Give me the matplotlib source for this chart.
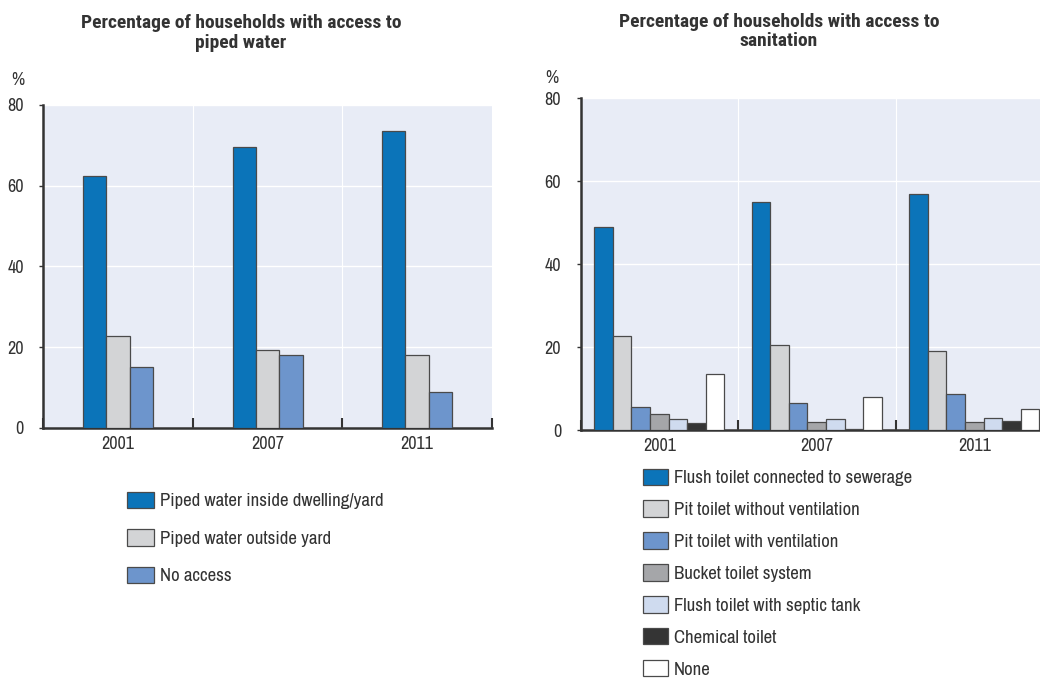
""" household access to piped water and sanitation, 2001-2011 """
import matplotlib
matplotlib.use("Agg")
from matplotlib import pyplot as plt
from matplotlib import font_manager
import numpy as np

# data
years = ["2001", "2007", "2011"]

water_labels = [
    "Piped water inside dwelling/yard",
    "Piped water outside yard",
    "No access",
]
water_inside = [62.4, 69.5, 73.5]
water_outside = [22.7, 19.3, 18.0]
water_none = [15.1, 18.0, 8.9]

sanit_labels = [
    "Flush toilet connected to sewerage",
    "Pit toilet without ventilation",
    "Pit toilet with ventilation",
    "Bucket toilet system",
    "Flush toilet with septic tank",
    "Chemical toilet",
    "None",
]
flush_sewer = [49.0, 54.9, 56.9]
pit_no_vent = [22.7, 20.5, 19.1]
pit_vent = [5.5, 6.4, 8.6]
bucket = [3.8, 2.0, 1.85]
flush_septic = [2.6, 2.6, 2.8]
chemical = [1.7, 0.25, 2.25]
sanit_none = [13.4, 8.0, 5.0]

# styles
_water_colors = ["#0b74b9", "#d3d4d6", "#6d95cc"]
_sanit_colors = ["#0b74b9", "#d3d4d6", "#6d95cc", "#a5a6a9", "#cfdbef", "#343434", "#ffffff"]
_edge = "#4a4a4a"
_bg = "#e8ecf6"
_text = "#333333"

# pick a narrow sans if there is one, else plain Liberation Sans
_faces = font_manager.fontManager.ttflist
_names = {f.name for f in _faces}
_bold_names = {f.name for f in _faces
               if (f.weight if isinstance(f.weight, int) else 400) >= 700
               or f.weight == "bold"}
_candidates = ["Liberation Sans Narrow", "Arial Narrow", "Archivo Narrow",
               "Roboto Condensed", "PT Sans Narrow", "Liberation Sans"]
_family = next((c for c in _candidates if c in _names), "DejaVu Sans")
_title_family = next((c for c in _candidates if c in _bold_names), "DejaVu Sans")
plt.rcParams["font.family"] = [_family, "DejaVu Sans"]
plt.rcParams["text.color"] = _text
plt.rcParams["xtick.color"] = _text
plt.rcParams["ytick.color"] = _text

_fs = 13
_legend_fs = 13.5
_title_fs = 14


def draw_panel(ax, series, colors, labels, group_width):
    """ grouped bars with category boundary ticks """
    n = len(series)
    x = np.arange(len(years))
    w = group_width / n
    handles = []
    for i, (vals, col, lab) in enumerate(zip(series, colors, labels)):
        _offset = (i - (n - 1) / 2) * w
        b = ax.bar(x + _offset, vals, width=w, color=col, edgecolor=_edge,
                   linewidth=0.9, label=lab, zorder=3)
        handles.append(b)

    ax.set_facecolor(_bg)
    ax.set_xlim(-0.5, len(years) - 0.5)
    ax.set_ylim(0, 80)
    ax.set_yticks([0, 20, 40, 60, 80])
    ax.grid(axis="y", color="white", linewidth=1.0, zorder=1)

    # tick marks at category boundaries, labels at centers
    ax.set_xticks(np.arange(len(years) + 1) - 0.5)
    ax.set_xticklabels([])
    ax.set_xticks(x, minor=True)
    ax.set_xticklabels(years, minor=True)
    for b in np.arange(1, len(years)) - 0.5:
        ax.axvline(b, color="white", linewidth=0.8, zorder=1)
    ax.tick_params(axis="x", which="major", direction="in", length=7, width=1.5,
                   color="#333333")
    ax.tick_params(axis="x", which="minor", length=0, pad=6, labelsize=_fs)
    ax.tick_params(axis="y", direction="out", length=3, width=1.0, pad=11,
                   labelsize=_fs, color="#333333")

    for s in ["top", "right"]:
        ax.spines[s].set_visible(False)
    for s in ["left", "bottom"]:
        ax.spines[s].set_linewidth(1.8)
        ax.spines[s].set_color("#333333")
    return handles


fig = plt.figure(figsize=(10.4, 6.79), dpi=100)

# left panel: piped water
ax1 = fig.add_axes([0.0417, 0.3701, 0.4313, 0.4753])
h1 = draw_panel(ax1, [water_inside, water_outside, water_none], _water_colors,
                water_labels, 0.47)
fig.text(0.2317, 0.979, "Percentage of households with access to\npiped water",
         ha="center", va="top", fontsize=_title_fs, fontweight="bold",
         linespacing=1.1, family=[_title_family, "DejaVu Sans"])
fig.text(0.0175, 0.882, "%", ha="center", va="center", fontsize=_fs)
fig.legend(handles=h1, labels=water_labels, loc="upper left",
           bbox_to_anchor=(0.122, 0.276), frameon=False, fontsize=_legend_fs,
           handlelength=1.45, handleheight=1.0, handletextpad=0.3,
           labelspacing=1.05, borderpad=0, borderaxespad=0)

# right panel: sanitation
ax2 = fig.add_axes([0.5582, 0.3667, 0.4543, 0.4885])
h2 = draw_panel(ax2, [flush_sewer, pit_no_vent, pit_vent, bucket, flush_septic,
                      chemical, sanit_none], _sanit_colors, sanit_labels, 0.824)
fig.text(0.749, 0.981, "Percentage of households with access to\nsanitation",
         ha="center", va="top", fontsize=_title_fs, fontweight="bold",
         linespacing=1.1, family=[_title_family, "DejaVu Sans"])
fig.text(0.531, 0.885, "%", ha="center", va="center", fontsize=_fs)
fig.legend(handles=h2, labels=sanit_labels, loc="upper left",
           bbox_to_anchor=(0.618, 0.31), frameon=False, fontsize=_legend_fs,
           handlelength=1.35, handleheight=0.97, handletextpad=0.3,
           labelspacing=0.76, borderpad=0, borderaxespad=0)

fig.savefig("out.png", dpi=100)
